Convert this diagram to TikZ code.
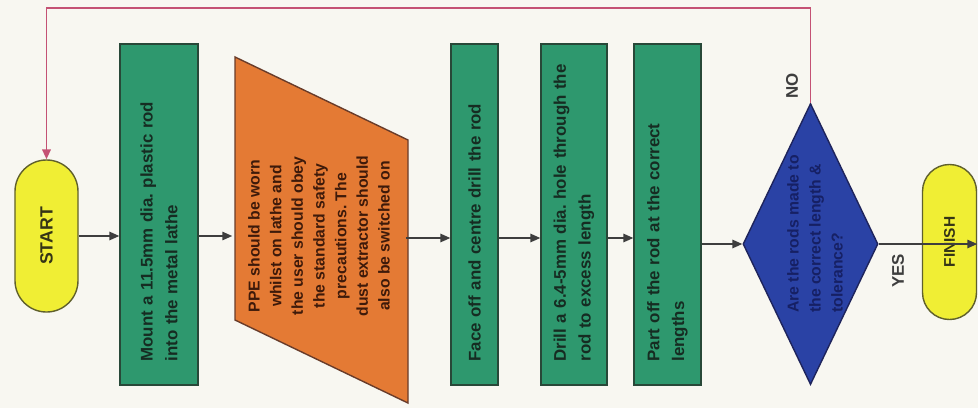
\documentclass[tikz,border=0pt]{standalone}
\usepackage{fontspec}
\setmainfont{Liberation Sans}
\usetikzlibrary{shapes.geometric,shapes.misc,arrows.meta}
\frenchspacing

\definecolor{paper}{RGB}{248,247,241}
\definecolor{stepgreen}{RGB}{46,152,110}
\definecolor{stepline}{RGB}{40,72,56}
\definecolor{steptext}{RGB}{22,44,34}
\definecolor{ppeorange}{RGB}{228,122,52}
\definecolor{ppeline}{RGB}{105,60,42}
\definecolor{ppetext}{RGB}{62,26,10}
\definecolor{decblue}{RGB}{42,66,165}
\definecolor{decline}{RGB}{30,36,92}
\definecolor{dectext}{RGB}{22,32,100}
\definecolor{termyellow}{RGB}{240,238,52}
\definecolor{termline}{RGB}{96,96,44}
\definecolor{termtext}{RGB}{52,52,22}
\definecolor{flowgrey}{RGB}{62,62,62}
\definecolor{loopred}{RGB}{196,82,116}

\begin{document}
\begin{tikzpicture}[x=0.025cm,y=-0.025cm,
  flow/.style={draw=flowgrey, line width=1pt, -{Triangle[length=7pt,width=6pt]}},
  loopline/.style={draw=loopred, line width=1.4pt, -{Triangle[length=7pt,width=6pt]}},
  term/.style={shape=rounded rectangle, rotate=90, draw=termline, line width=1pt,
    fill=termyellow, text=termtext, inner sep=0pt,
    font=\bfseries\fontsize{12.6}{15}\selectfont},
  stepbox/.style={shape=rectangle, rotate=90, draw=stepline, line width=1pt,
    fill=stepgreen, text=steptext, align=left, text width=7.35cm,
    minimum width=8.525cm, inner sep=0pt,
    font=\bfseries\fontsize{12}{17.6}\selectfont},
  ppebox/.style={draw=ppeline, line width=1pt, fill=ppeorange},
  decbox/.style={shape=diamond, draw=decline, line width=1pt, fill=decblue,
    inner sep=0pt, minimum width=3.375cm, minimum height=7.025cm},
  lbl/.style={rotate=90, text=flowgrey, font=\bfseries\fontsize{12}{14}\selectfont}
]
% page
\path[fill=paper] (0,0) rectangle (978,408);

% terminals
\node[term, minimum width=3.8cm, minimum height=1.575cm] (start) at (46.5,236) {START};
\node[term, minimum width=3.875cm, minimum height=1.35cm,
  font=\bfseries\fontsize{11}{13}\selectfont] (finish) at (949.5,242) {FINISH};

% process steps (text starts near the lower edge of each box)
\node[stepbox, minimum height=1.95cm] (mount) at (159,214.5)
  {Mount a 11.5mm dia. plastic rod\\into the metal lathe};
\node[stepbox, minimum height=1.175cm] (face) at (474.5,214.5)
  {Face off and centre drill the rod};
\node[stepbox, minimum height=1.65cm] (drill) at (574,214.5)
  {\mbox{Drill a 6.4-5mm dia. hole through the}\\rod to excess length};
\node[stepbox, minimum height=1.675cm] (part) at (667.5,214.5)
  {Part off the rod at the correct\\lengths};

% safety input (parallelogram)
\coordinate (p1) at (235,57);
\coordinate (p2) at (408,140);
\coordinate (p3) at (408,403);
\coordinate (p4) at (235,320);
\draw[ppebox] (p1) -- (p2) -- (p3) -- (p4) -- cycle;
\node[rotate=90, align=center, inner sep=0pt, minimum height=4.325cm,
  text=ppetext, font=\bfseries\fontsize{11.2}{15.4}\selectfont] (ppe) at (319,236)
  {PPE should be worn\\whilst on lathe and\\the user should obey\\the standard safety\\precautions. The\\dust extractor should\\also be switched on};

% decision
\node[decbox] (dec) at (810.5,244) {};
\node[rotate=90, align=left, inner sep=0pt, text=dectext,
  font=\bfseries\fontsize{11.2}{15.6}\selectfont] (decq) at (815,234)
  {Are the rods made to\\the correct length \&\\tolerance?};

% flow line levels
\coordinate (f1) at (0,236);
\coordinate (f2) at (0,238);
\coordinate (top) at (0,8);

% connectors
\draw[flow] (start.south) -- (mount.north |- start.south);
\draw[flow] (mount.south |- f1) -- (ppe.north |- f1);
\draw[flow] (ppe.south |- f2) -- (face.north |- f2);
\draw[flow] (face.south |- f2) -- (drill.north |- f2);
\draw[flow] (drill.south |- f2) -- (part.north |- f2);
\draw[flow] (part.south |- dec.west) -- (dec.west);
\draw[flow] (dec.east) -- (finish.south |- dec.east);
\draw[loopline] (dec.north) -- (dec.north |- top) -| (start.east);

% branch labels
\node[lbl] (yes) at (898,271) {YES};
\node[lbl] (no) at (792,86) {NO};
\end{tikzpicture}
\end{document}
